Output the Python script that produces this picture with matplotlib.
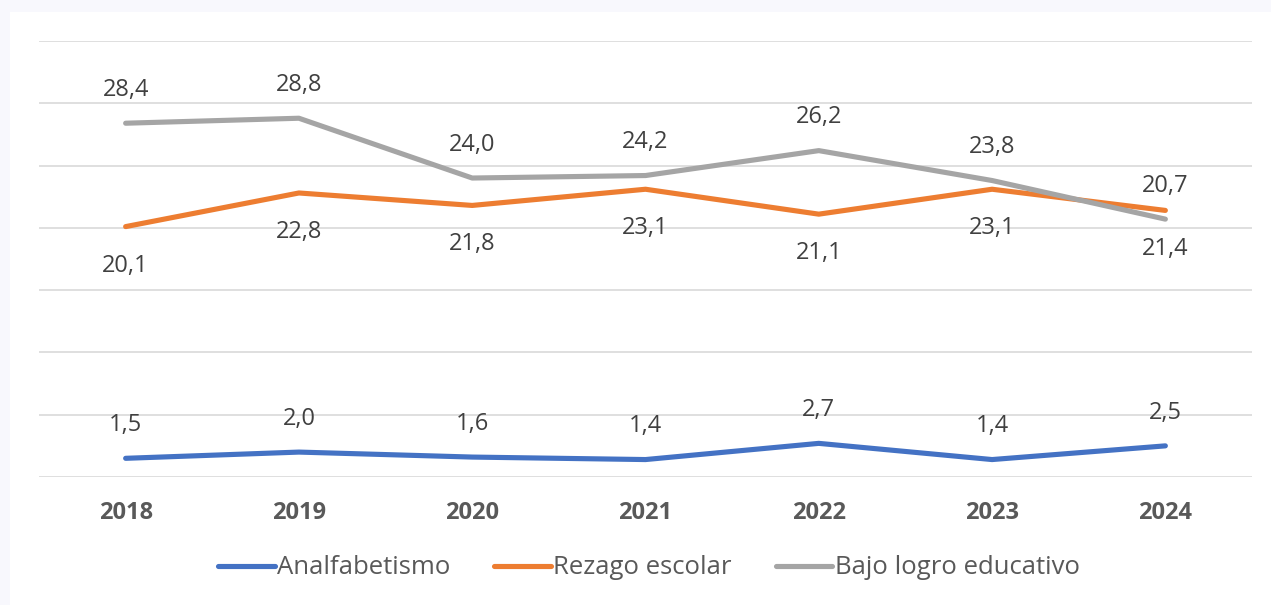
import matplotlib
matplotlib.use("Agg")
import matplotlib.pyplot as plt
from matplotlib.patches import Rectangle

years = ["2018", "2019", "2020", "2021", "2022", "2023", "2024"]
analfabetismo = [1.5, 2.0, 1.6, 1.4, 2.7, 1.4, 2.5]
rezago = [20.1, 22.8, 21.8, 23.1, 21.1, 23.1, 21.4]
bajo_logro = [28.4, 28.8, 24.0, 24.2, 26.2, 23.8, 20.7]
series_names = ["Analfabetismo", "Rezago escolar", "Bajo logro educativo"]

plt.rcParams['font.family'] = ['Open Sans', 'DejaVu Sans']

W, H = 1271, 605
fig = plt.figure(figsize=(W / 100, H / 100), dpi=100)
fig.patch.set_facecolor("#F8F8FD")
fig.patches.append(Rectangle((10 / W, 0), 1 - 10 / W, (H - 12) / H,
                             transform=fig.transFigure, facecolor="white",
                             edgecolor="none", zorder=-5))

ax = fig.add_axes([39 / W, (H - 477) / H, (1252 - 39) / W, (477 - 41) / H])
ax.set_facecolor("none")
ax.set_zorder(1)

x = list(range(len(years)))
colors = ["#4472C4", "#ED7D31", "#A5A5A5"]
data = [analfabetismo, rezago, bajo_logro]
label_pos = ["above", "below", "above"]

lines = []
for vals, c, name in zip(data, colors, series_names):
    ln, = ax.plot(x, vals, color=c, lw=3.7, solid_capstyle="round",
                  solid_joinstyle="round", label=name, zorder=3)
    lines.append(ln)

for vals, pos in zip(data, label_pos):
    for xi, v in zip(x, vals):
        off = 24 if pos == "above" else -28
        ax.annotate(f"{v:.1f}".replace(".", ","), (xi, v),
                    xytext=(0, off), textcoords="offset points",
                    ha="center", va="center", fontsize=17, color="#404040",
                    zorder=4)

ax.set_xlim(-0.5, len(years) - 0.5)
ax.set_ylim(0, 35)
ax.set_yticks(range(0, 36, 5))
ax.yaxis.grid(True, color="#D9D9D9", lw=1.2)
ax.set_axisbelow(True)
ax.tick_params(axis="y", left=False, labelleft=False)
ax.set_xticks(x)
ax.set_xticklabels(years, fontsize=17, fontweight="bold", color="#595959")
ax.tick_params(axis="x", length=0, pad=17)
for s in ax.spines.values():
    s.set_visible(False)

leg = fig.legend(handles=lines, loc="center", bbox_to_anchor=(649 / W, 1 - 568 / H),
                 ncol=3, frameon=False, fontsize=18.5, handlelength=2.2,
                 handletextpad=0.1, columnspacing=1.7, labelcolor="#595959")

fig.savefig("out.png", dpi=100, facecolor=fig.get_facecolor())
